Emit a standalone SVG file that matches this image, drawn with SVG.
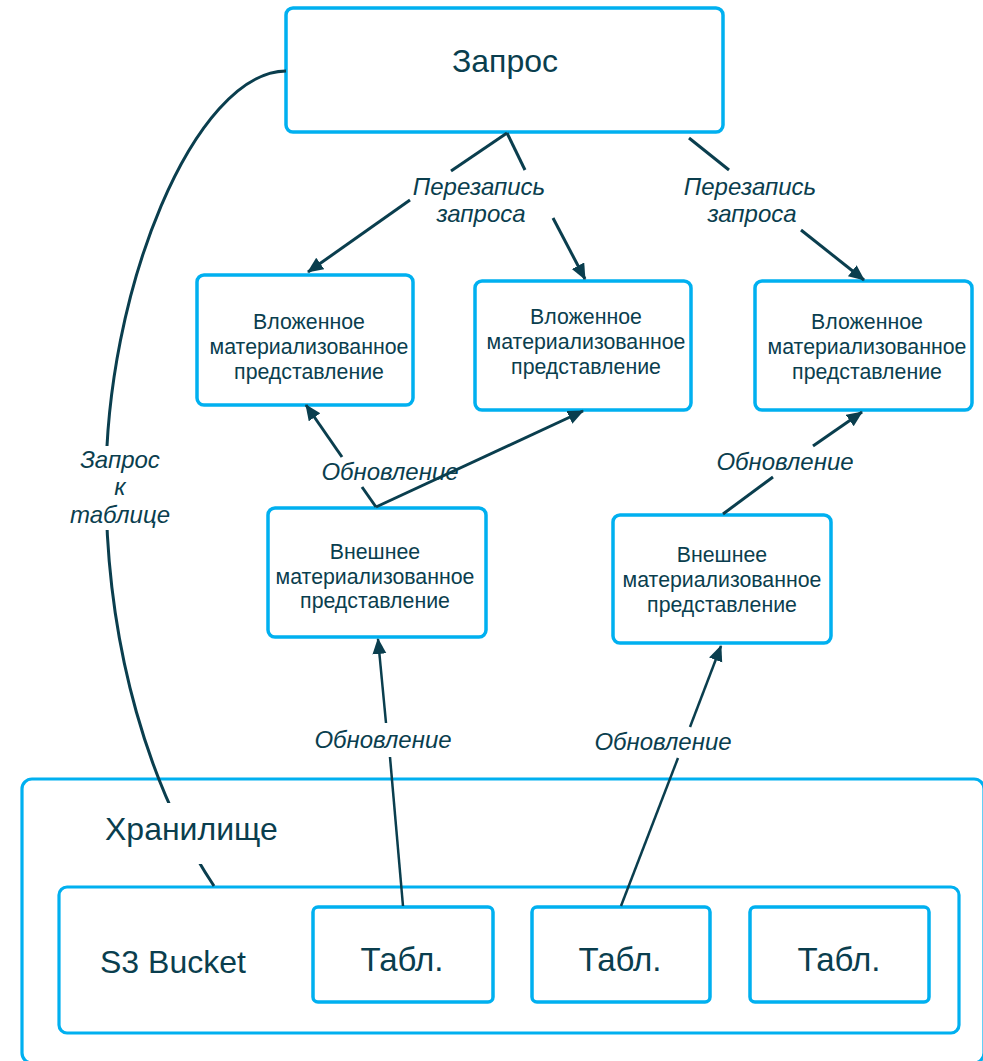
<svg xmlns="http://www.w3.org/2000/svg" width="983" height="1061" viewBox="0 0 983 1061">
  <style>
    .box { fill: #ffffff; stroke: #00B0F0; stroke-width: 3.5; }
    .frame { fill: none; stroke: #00B0F0; stroke-width: 3.2; }
    .t { font-family: "Liberation Sans", Arial, sans-serif; fill: #0A3E4E; text-anchor: middle; }
    .start { text-anchor: start; }
    .node { font-size: 21.3px; }
    .big { font-size: 32px; }
    .tbl { font-size: 33px; }
    .lbl { font-family: "Liberation Sans", Arial, sans-serif; font-style: italic; font-size: 24px; fill: #0A3E4E; text-anchor: middle; }
    .wire { fill: none; stroke: #0A3E4E; stroke-width: 3; }
    .thin { stroke-width: 2.5; }
  </style>
  <defs>
    <marker id="arrow" markerUnits="userSpaceOnUse" markerWidth="18" markerHeight="16" refX="15" refY="7" orient="auto">
      <path d="M0,0 L16,7 L0,14 Z" fill="#0A3E4E"/>
    </marker>
    <!-- gaps in the table-query curve around its labels -->
    <mask id="curveGaps" maskUnits="userSpaceOnUse" x="0" y="0" width="983" height="1061">
      <rect x="0" y="0" width="983" height="1061" fill="#fff"/>
      <rect x="60" y="446" width="120" height="84" fill="#000"/>
      <rect x="140" y="803" width="70" height="61" fill="#000"/>
    </mask>
  </defs>

  <rect width="983" height="1061" fill="#ffffff"/>

  <!-- storage container -->
  <g id="storage">
    <rect class="frame" x="22" y="779" width="962" height="284" rx="10"/>
    <text class="t big start" x="105" y="840">Хранилище</text>
  </g>

  <g id="s3-bucket">
    <rect class="frame" x="59" y="887" width="900" height="146" rx="8"/>
    <text class="t big start" x="100" y="973">S3 Bucket</text>
  </g>

  <g id="table-1">
    <rect class="box" x="313" y="907" width="180" height="95" rx="5"/>
    <text class="t tbl" x="402" y="971">Табл.</text>
  </g>
  <g id="table-2">
    <rect class="box" x="532" y="907" width="178" height="95" rx="5"/>
    <text class="t tbl" x="620" y="971">Табл.</text>
  </g>
  <g id="table-3">
    <rect class="box" x="750" y="907" width="179" height="95" rx="5"/>
    <text class="t tbl" x="839" y="971">Табл.</text>
  </g>

  <g id="query">
    <rect class="box" x="286" y="8" width="437" height="124" rx="7"/>
    <text class="t big" x="505" y="72">Запрос</text>
  </g>

  <g id="nested-mv-1">
    <rect class="box" x="197" y="275" width="216" height="130" rx="7"/>
    <text class="t node" x="309" y="329">Вложенное</text>
    <text class="t node" x="309" y="354">материализованное</text>
    <text class="t node" x="309" y="379">представление</text>
  </g>
  <g id="nested-mv-2">
    <rect class="box" x="475" y="281" width="216" height="129" rx="7"/>
    <text class="t node" x="586" y="324">Вложенное</text>
    <text class="t node" x="586" y="349">материализованное</text>
    <text class="t node" x="586" y="374">представление</text>
  </g>
  <g id="nested-mv-3">
    <rect class="box" x="755" y="281" width="217" height="129" rx="7"/>
    <text class="t node" x="867" y="329">Вложенное</text>
    <text class="t node" x="867" y="354">материализованное</text>
    <text class="t node" x="867" y="379">представление</text>
  </g>

  <g id="external-mv-1">
    <rect class="box" x="268" y="508" width="218" height="129" rx="7"/>
    <text class="t node" x="375" y="559">Внешнее</text>
    <text class="t node" x="375" y="584">материализованное</text>
    <text class="t node" x="375" y="608">представление</text>
  </g>
  <g id="external-mv-2">
    <rect class="box" x="613" y="515" width="218" height="128" rx="7"/>
    <text class="t node" x="722" y="562">Внешнее</text>
    <text class="t node" x="722" y="587">материализованное</text>
    <text class="t node" x="722" y="612">представление</text>
  </g>

  <g id="connectors">
    <!-- query rewrite -->
    <path class="wire" d="M507,133 L451,171"/>
    <path class="wire" d="M410,200 L308,272" marker-end="url(#arrow)"/>
    <path class="wire" d="M507,133 L525,170"/>
    <path class="wire" d="M553,218 L585,279" marker-end="url(#arrow)"/>
    <path class="wire" d="M689,138 L729,170"/>
    <path class="wire" d="M801,230 L864,280" marker-end="url(#arrow)"/>
    <!-- refresh between views -->
    <path class="wire" d="M376,507 L362,487"/>
    <path class="wire" d="M342,457 L306,405" marker-end="url(#arrow)"/>
    <path class="wire" d="M376,507 L583,411" marker-end="url(#arrow)"/>
    <path class="wire" d="M723,514 L773,477"/>
    <path class="wire" d="M813,446 L862,412" marker-end="url(#arrow)"/>
    <!-- refresh from tables -->
    <path class="wire thin" d="M403,906 L390,757"/>
    <path class="wire thin" d="M386,723 L378,639" marker-end="url(#arrow)"/>
    <path class="wire thin" d="M621,906 L678,758"/>
    <path class="wire thin" d="M690,727 L721,646" marker-end="url(#arrow)"/>
    <!-- direct table query -->
    <path class="wire" mask="url(#curveGaps)" d="M286,71 C195,72 104,290 106,490 C107,650 150,790 214,886"/>
  </g>

  <g id="labels">
    <text class="lbl" x="479" y="195">Перезапись</text>
    <text class="lbl" x="481" y="222">запроса</text>
    <text class="lbl" x="750" y="195">Перезапись</text>
    <text class="lbl" x="752" y="222">запроса</text>
    <text class="lbl" x="390" y="480">Обновление</text>
    <text class="lbl" x="785" y="470">Обновление</text>
    <text class="lbl" x="383" y="748">Обновление</text>
    <text class="lbl" x="663" y="750">Обновление</text>
    <text class="lbl" x="120" y="468">Запрос</text>
    <text class="lbl" x="120" y="495">к</text>
    <text class="lbl" x="120" y="523">таблице</text>
  </g>
</svg>
